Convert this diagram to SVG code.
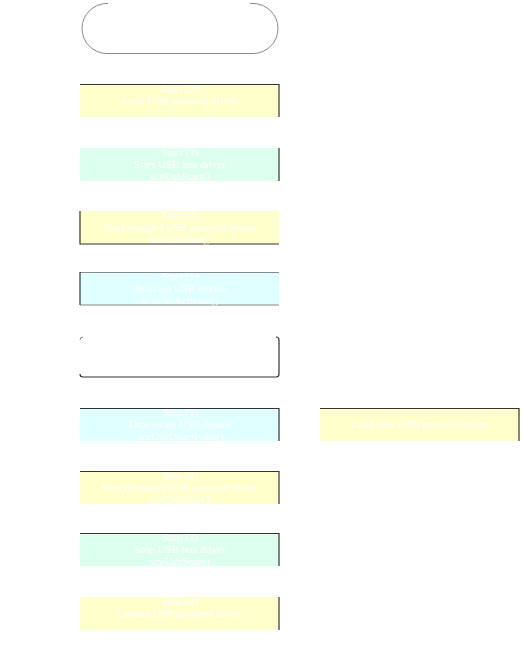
<svg xmlns="http://www.w3.org/2000/svg" width="523" height="662" viewBox="0 0 523 662">
<style>
.y{fill:#ffffcc}
.m{fill:#ddffee}
.c{fill:#e0ffff}
.e{stroke:#333333;stroke-width:1.2;fill:none}
.g{stroke:#888888;stroke-width:1;fill:none}
text{font-family:"Liberation Serif","Times New Roman",serif;font-size:11px;fill:#ffffff;text-anchor:middle}
</style>
<rect width="523" height="662" fill="#ffffff"/>
<g id="n1">
<path class="g" d="M108,3.5 H107 A25,25 0 0 0 107,53.5 H253 A25,25 0 0 0 253,3.5 H250" stroke="#555"/>
</g>
<g id="n2">
<rect class="y" x="80" y="84" width="199" height="33"/>
<path class="e" d="M80,84.5 H279 V117"/>
<text x="180" y="92">Start (2)</text>
<text x="180" y="104">Load USB protocol driver</text>
</g>
<g id="n3">
<rect class="m" x="80" y="148" width="199" height="33"/>
<path class="e" d="M279,148 V181"/>
<text x="180" y="156">Start (3)</text>
<text x="180" y="168">Start USB bus driver</text>
<text x="180" y="180">sceUsbStart()</text>
</g>
<g id="n4">
<rect class="y" x="80" y="211" width="199" height="33"/>
<path class="e" d="M80,211 V244 H279"/>
<text x="180" y="219">Start (4)</text>
<text x="180" y="231">Start (plugin) USB protocol driver</text>
<text x="180" y="243">sceUsbStart()</text>
</g>
<g id="n5">
<rect class="c" x="80" y="272" width="199" height="33"/>
<path class="g" d="M80,272.5 H279 M80,305 H279"/>
<path class="e" d="M80,272 V305"/>
<text x="180" y="280">Start (5)</text>
<text x="180" y="292">Activate USB device</text>
<text x="180" y="304">sceUsbActivate()</text>
</g>
<g id="n6">
<path class="e" d="M276,337 A3,3 0 0 1 279,340 V374 A3,3 0 0 1 276,377 H83 A3,3 0 0 1 80,374"/>
<path class="g" d="M80,340 A3,3 0 0 1 83,337"/>
</g>
<g id="n7">
<rect class="c" x="80" y="408" width="199" height="33"/>
<path class="e" d="M80,408.5 H279 V441"/>
<text x="180" y="416">Stop (1)</text>
<text x="180" y="428">Deactivate USB device</text>
<text x="180" y="440">sceUsbDeactivate()</text>
</g>
<g id="n8">
<rect class="y" x="320" y="408" width="199" height="33"/>
<path class="e" d="M320,408.5 H519 V441"/>
<text x="420" y="428">Load new USB protocol driver</text>
</g>
<g id="n9">
<rect class="y" x="80" y="471" width="199" height="33"/>
<path class="e" d="M80,471.5 H279 V504"/>
<text x="180" y="479">Stop (2)</text>
<text x="180" y="491">Stop (plugout) USB protocol driver</text>
<text x="180" y="503">sceUsbStop()</text>
</g>
<g id="n10">
<rect class="m" x="80" y="533" width="199" height="33"/>
<path class="e" d="M80,533.5 H279 V566"/>
<text x="180" y="541">Stop (3)</text>
<text x="180" y="553">Stop USB bus driver</text>
<text x="180" y="565">sceUsbStop()</text>
</g>
<g id="n11">
<rect class="y" x="80" y="597" width="199" height="33"/>
<path class="e" d="M279,597 V630"/>
<text x="180" y="605">Stop (4)</text>
<text x="180" y="617">Unload USB protocol driver</text>
</g>
<g id="connectors"></g>
</svg>
